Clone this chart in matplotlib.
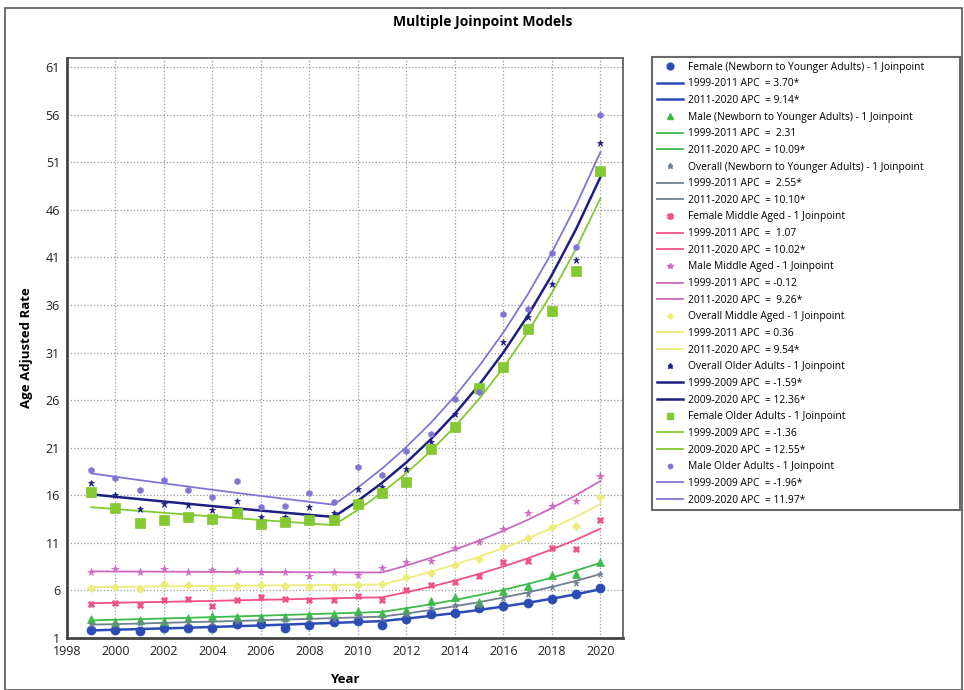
import matplotlib
matplotlib.use("Agg")
import matplotlib.pyplot as plt
from matplotlib.lines import Line2D
from matplotlib.patches import Rectangle

plt.rcParams["font.family"] = ["Open Sans", "DejaVu Sans"]

years = list(range(1999, 2021))

# observed age adjusted rates
female_young = [1.85, 1.80, 1.75, 2.00, 2.00, 2.05, 2.50, 2.50, 2.10, 2.40, 2.70,
                2.80, 2.35, 2.95, 3.55, 3.65, 4.20, 4.35, 4.65, 5.05, 5.65, 6.25]
male_young = [3.00, 2.65, 2.85, 2.80, 3.05, 3.30, 3.20, 3.25, 3.25, 3.40, 3.50,
              3.80, 3.65, 3.90, 4.90, 5.30, 4.80, 5.95, 6.50, 7.60, 7.75, 9.00]
overall_young = [2.50, 2.50, 2.55, 2.60, 2.65, 2.70, 2.80, 2.85, 2.85, 3.00, 3.00,
                 3.30, 3.05, 3.50, 4.15, 4.45, 4.50, 5.20, 5.60, 6.35, 6.80, 7.70]
female_mid = [4.60, 4.70, 4.50, 5.00, 5.15, 4.40, 4.95, 5.35, 5.05, 4.95, 4.95,
              5.40, 4.95, 6.00, 6.60, 6.85, 7.55, 8.95, 9.05, 10.45, 10.40, 13.45]
male_mid = [7.95, 8.20, 7.95, 8.20, 7.95, 8.10, 8.05, 7.90, 7.95, 7.50, 7.95,
            7.60, 8.40, 9.00, 9.05, 10.50, 11.10, 12.45, 14.10, 14.90, 15.40, 18.05]
overall_mid = [6.30, 6.40, 6.20, 6.65, 6.55, 6.30, 6.50, 6.55, 6.50, 6.40, 6.40,
               6.55, 6.65, 7.45, 7.85, 8.70, 9.30, 10.60, 11.55, 12.70, 12.75, 15.80]
overall_old = [17.3, 16.0, 14.6, 15.1, 15.0, 14.4, 15.4, 13.7, 13.7, 14.8, 14.1,
               16.65, 16.9, 18.8, 21.6, 24.5, 27.3, 32.1, 34.7, 38.2, 40.75, 53.0]
female_old = [16.3, 14.7, 13.1, 13.4, 13.7, 13.5, 14.1, 13.0, 13.2, 13.4, 13.4,
              15.1, 16.2, 17.4, 20.9, 23.2, 27.3, 29.45, 33.5, 35.35, 39.55, 50.05]
male_old = [18.7, 17.8, 16.6, 17.6, 16.6, 15.8, 17.5, 14.8, 14.9, 16.2, 15.3,
            19.0, 18.1, 20.7, 22.4, 26.1, 26.9, 35.1, 35.6, 41.5, 42.1, 55.95]

# joinpoint model fits (read at each year)
female_young_fit = [1.80, 1.87, 1.94, 2.01, 2.08, 2.16, 2.24, 2.32, 2.41, 2.50, 2.59,
                    2.68, 2.78, 3.04, 3.32, 3.62, 3.95, 4.31, 4.70, 5.13, 5.60, 6.12]
male_young_fit = [2.85, 2.92, 2.98, 3.05, 3.12, 3.20, 3.27, 3.34, 3.42, 3.50, 3.58,
                  3.66, 3.75, 4.13, 4.54, 5.00, 5.51, 6.06, 6.67, 7.35, 8.09, 8.90]
overall_young_fit = [2.40, 2.46, 2.52, 2.59, 2.66, 2.72, 2.79, 2.86, 2.94, 3.01, 3.09,
                     3.17, 3.25, 3.58, 3.94, 4.34, 4.77, 5.26, 5.79, 6.37, 7.01, 7.72]
female_mid_fit = [4.65, 4.70, 4.75, 4.80, 4.85, 4.90, 4.96, 5.01, 5.06, 5.12, 5.17,
                  5.23, 5.28, 5.81, 6.39, 7.03, 7.74, 8.51, 9.37, 10.31, 11.34, 12.48]
male_mid_fit = [8.00, 7.99, 7.98, 7.97, 7.96, 7.95, 7.94, 7.93, 7.92, 7.91, 7.90,
                7.89, 7.89, 8.62, 9.41, 10.29, 11.24, 12.28, 13.42, 14.66, 16.01, 17.50]
overall_mid_fit = [6.35, 6.37, 6.40, 6.42, 6.44, 6.47, 6.49, 6.51, 6.54, 6.56, 6.58,
                   6.61, 6.63, 7.26, 7.96, 8.72, 9.55, 10.46, 11.46, 12.55, 13.75, 15.06]
overall_old_fit = [16.10, 15.84, 15.59, 15.34, 15.10, 14.86, 14.62, 14.39, 14.16, 13.94, 13.72,
                   15.42, 17.32, 19.46, 21.87, 24.57, 27.61, 31.02, 34.85, 39.16, 44.00, 49.44]
female_old_fit = [14.75, 14.55, 14.35, 14.16, 13.96, 13.77, 13.59, 13.40, 13.22, 13.04, 12.86,
                  14.47, 16.29, 18.34, 20.64, 23.23, 26.14, 29.42, 33.12, 37.27, 41.95, 47.21]
male_old_fit = [18.30, 17.94, 17.59, 17.25, 16.91, 16.58, 16.25, 15.93, 15.62, 15.31, 15.01,
                16.81, 18.82, 21.08, 23.60, 26.42, 29.59, 33.13, 37.09, 41.53, 46.50, 52.07]

names = ["Female (Newborn to Younger Adults) - 1 Joinpoint",
         "Male (Newborn to Younger Adults) - 1 Joinpoint",
         "Overall (Newborn to Younger Adults) - 1 Joinpoint",
         "Female Middle Aged - 1 Joinpoint",
         "Male Middle Aged - 1 Joinpoint",
         "Overall Middle Aged - 1 Joinpoint",
         "Overall Older Adults - 1 Joinpoint",
         "Female Older Adults - 1 Joinpoint",
         "Male Older Adults - 1 Joinpoint"]
joinpoints = [2011, 2011, 2011, 2011, 2011, 2011, 2009, 2009, 2009]
apc_1 = ["3.70*", " 2.31", " 2.55*", " 1.07", "-0.12", "0.36", "-1.59*", "-1.36", "-1.96*"]
apc_2 = ["9.14*", "10.09*", "10.10*", "10.02*", " 9.26*", "9.54*", "12.36*", "12.55*", "11.97*"]

observed = [female_young, male_young, overall_young, female_mid, male_mid,
            overall_mid, overall_old, female_old, male_old]
fitted = [female_young_fit, male_young_fit, overall_young_fit, female_mid_fit, male_mid_fit,
          overall_mid_fit, overall_old_fit, female_old_fit, male_old_fit]

colors = ["#2b4bb5", "#3dbb48", "#6f7f90", "#f0508a", "#cc68c0",
          "#ecec78", "#1c1f80", "#84c832", "#7f76d4"]
markers = ["o", "^", "*", "X", "*", "D", "*", "s", "h"]
msizes = [6.5, 6, 5, 5, 5.5, 3.8, 5, 6.5, 4.5]
lwidths = [1.8, 1.3, 1.3, 1.3, 1.3, 1.3, 1.8, 1.3, 1.3]

fig = plt.figure(figsize=(9.64, 6.90), dpi=100)
fig.patches.append(Rectangle((5 / 964, 0.0), 957 / 964, 1 - 8 / 690, transform=fig.transFigure,
                             fill=False, edgecolor="#555555", linewidth=1.2))
ax = fig.add_axes([67 / 964, 1 - 638 / 690, 556 / 964, (638 - 58) / 690])

handles = []
for i in range(9):
    jp = joinpoints[i]
    ax.plot(years, fitted[i], color=colors[i], linewidth=lwidths[i], zorder=2)
    ax.plot(years, observed[i], linestyle="none", marker=markers[i], markersize=msizes[i],
            color=colors[i], markeredgewidth=0.5, zorder=3)
    handles.append(Line2D([], [], linestyle="none", marker=markers[i], markersize=msizes[i] * 0.75,
                          color=colors[i], label=names[i]))
    handles.append(Line2D([], [], color=colors[i], linewidth=lwidths[i],
                          label=f"1999-{jp} APC  = {apc_1[i]}"))
    handles.append(Line2D([], [], color=colors[i], linewidth=lwidths[i],
                          label=f"{jp}-2020 APC  = {apc_2[i]}"))

ax.set_xlim(1998, 2020.93)
ax.set_ylim(1, 61.95)
ax.set_xticks(range(1998, 2021, 2))
ax.set_yticks(range(1, 62, 5))
ax.grid(True, color="#9a9a9a", linestyle=":", linewidth=0.9)
ax.tick_params(length=0, labelsize=9, colors="#222222", pad=5)
for s in ["left", "bottom"]:
    ax.spines[s].set_linewidth(2)
    ax.spines[s].set_color("#444444")
for s in ["top", "right"]:
    ax.spines[s].set_linewidth(1.2)
    ax.spines[s].set_color("#555555")

ax.set_xlabel("Year", fontsize=9.5, fontweight="bold", labelpad=11)
ax.set_ylabel("Age Adjusted Rate", fontsize=9.5, fontweight="bold", labelpad=9)
fig.text(483 / 964, 1 - 22 / 690, "Multiple Joinpoint Models", ha="center", va="center",
         fontsize=10, fontweight="bold")

leg = fig.legend(handles=handles, loc="upper left",
                 bbox_to_anchor=(652 / 964, 1 - 57 / 690, 308 / 964, 0), mode="expand",
                 fontsize=7.4, frameon=True, fancybox=False, edgecolor="#444444",
                 handlelength=2.6, handletextpad=0.5, labelspacing=0.55, borderpad=0.45,
                 borderaxespad=0)
leg.get_frame().set_linewidth(1.5)

fig.savefig("out.png", dpi=100)
